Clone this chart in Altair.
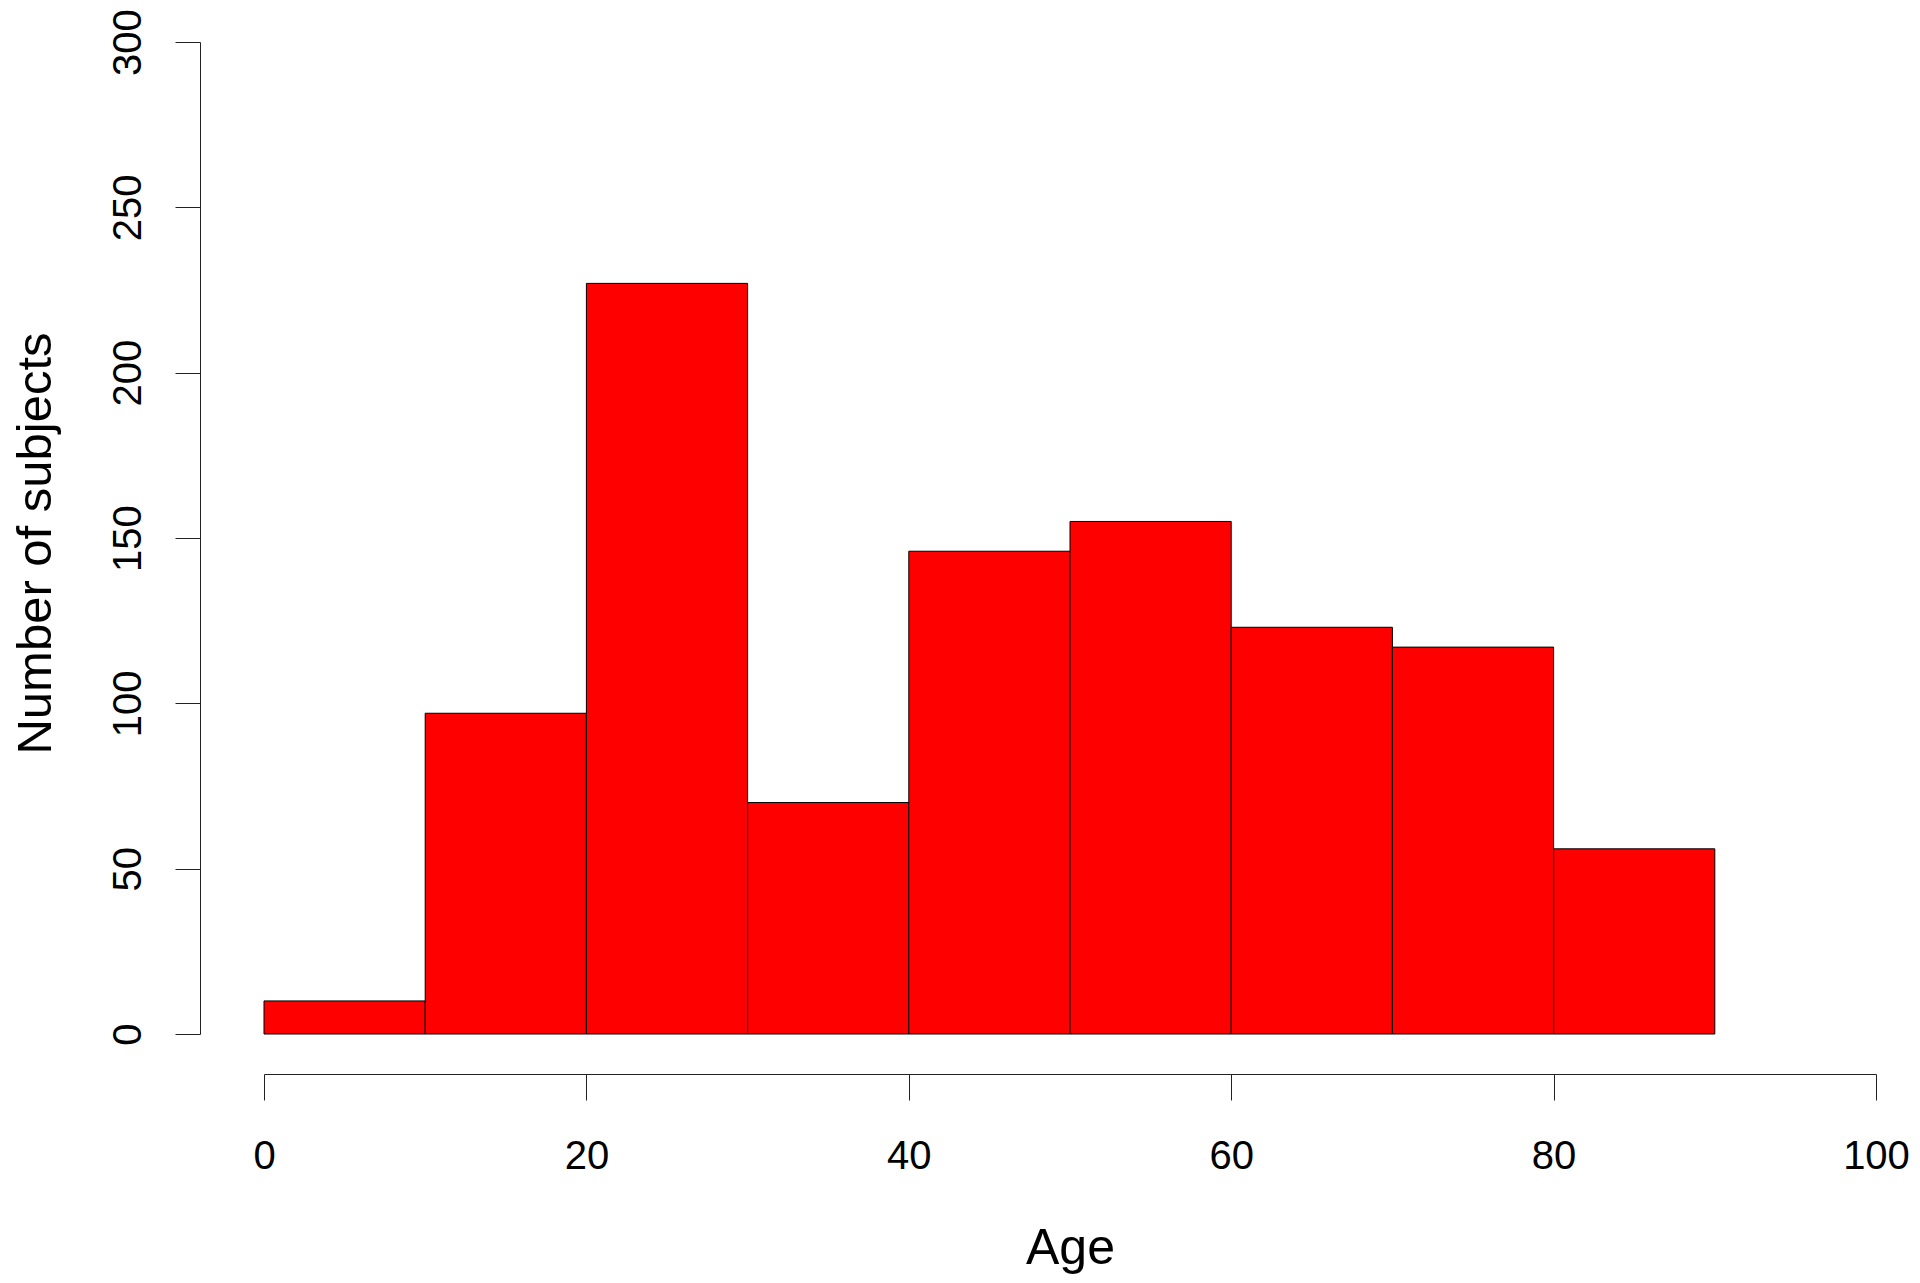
import altair as alt
import pandas as pd

# Histogram of subject ages (bins of 10 years)
bin_start = [0, 10, 20, 30, 40, 50, 60, 70, 80]
bin_end = [10, 20, 30, 40, 50, 60, 70, 80, 90]
counts = [10, 97, 227, 70, 146, 155, 123, 117, 56]

x_ticks = [0, 20, 40, 60, 80, 100]
y_ticks = [0, 50, 100, 150, 200, 250, 300]

df = pd.DataFrame({"start": bin_start, "end": bin_end, "count": counts})

FONT = "Liberation Sans"
W, H = 1612, 992

bars = alt.Chart(df).mark_rect(
    color="#FF0000", stroke="#000000", strokeWidth=1
).encode(
    x=alt.X(
        "start:Q",
        scale=alt.Scale(domain=[0, 100], nice=False, zero=False),
        axis=alt.Axis(
            title="Age",
            values=x_ticks,
            grid=False,
            offset=40,
            tickSize=26,
            tickColor="#222222",
            tickWidth=1,
            domainColor="#222222",
            domainWidth=1,
            labelPadding=36,
            labelFontSize=40,
            labelFont=FONT,
            labelColor="#000000",
            labelFlush=False,
            labelOverlap=False,
            titleFontSize=50,
            titleFont=FONT,
            titleFontWeight="normal",
            titleColor="#000000",
            titleX=W / 2,
            titleY=189,
            titleAlign="center",
            titleBaseline="alphabetic",
        ),
    ),
    x2="end:Q",
    y=alt.Y(
        "count:Q",
        scale=alt.Scale(domain=[0, 300], nice=False, zero=True),
        axis=alt.Axis(
            title="Number of subjects",
            values=y_ticks,
            grid=False,
            offset=64,
            tickSize=25,
            tickColor="#222222",
            tickWidth=1,
            domainColor="#222222",
            domainWidth=1,
            labelAngle=270,
            labelAlign="center",
            labelBaseline="alphabetic",
            labelPadding=35,
            labelFontSize=40,
            labelFont=FONT,
            labelColor="#000000",
            labelFlush=False,
            labelOverlap=False,
            titleFontSize=49,
            titleFont=FONT,
            titleFontWeight="normal",
            titleColor="#000000",
            titleAngle=270,
            titleX=-150,
            titleY=H / 2 + 5,
            titleAlign="center",
            titleBaseline="alphabetic",
        ),
    ),
    y2=alt.datum(0),
).properties(
    width=W,
    height=H,
    autosize=alt.AutoSizeParams(type="none"),
    padding={"left": 256, "top": 34, "right": 36, "bottom": 240},
).configure(
    background="#ffffff",
    view=alt.ViewConfig(stroke=None),
)

bars.save("out.html", embed_options={"renderer": "svg", "actions": False})
